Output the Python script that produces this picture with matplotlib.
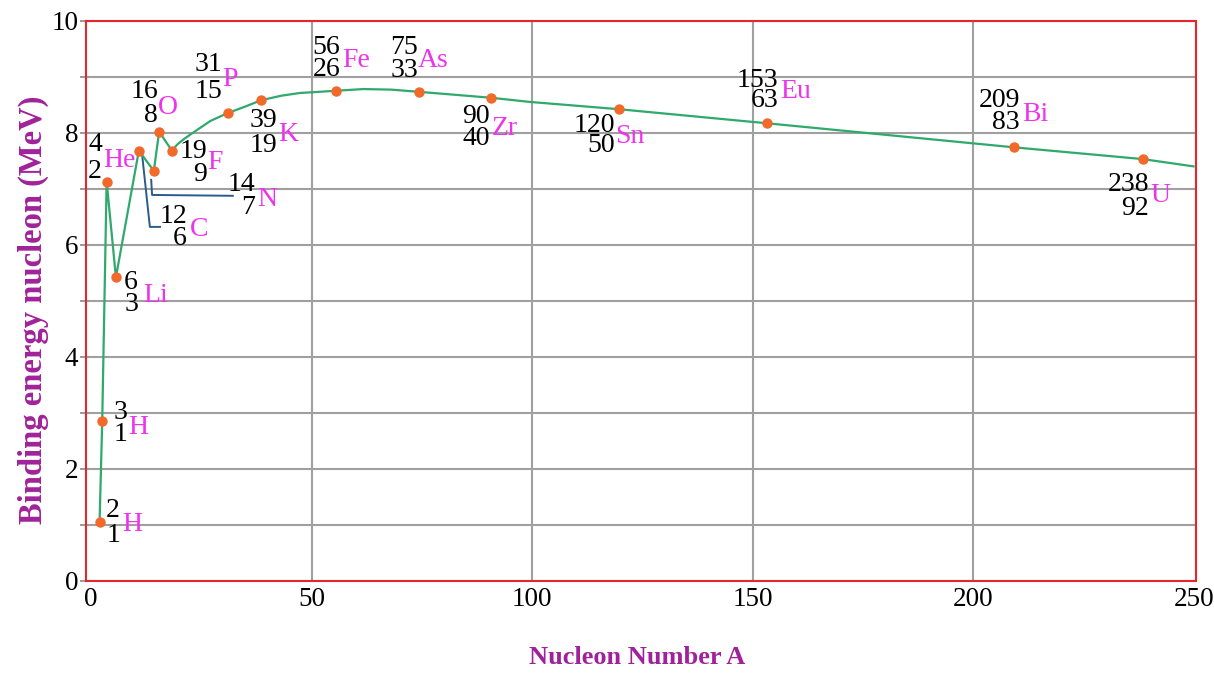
import matplotlib
matplotlib.use("Agg")
import matplotlib.pyplot as plt
from matplotlib.ticker import MultipleLocator

# ---------------- data ----------------
symbols = ["H", "H", "He", "Li", "C", "N", "O", "F", "P", "K", "Fe", "As", "Zr", "Sn", "Eu", "Bi", "U"]
mass_numbers = ["2", "3", "4", "6", "12", "14", "16", "19", "31", "39", "56", "75", "90", "120", "153", "209", "238"]
atomic_numbers = ["1", "1", "2", "3", "6", "7", "8", "9", "15", "19", "26", "33", "40", "50", "63", "83", "92"]
point_x = [1.9, 2.5, 3.5, 5.6, 10.8, 14.2, 15.4, 18.3, 30.9, 38.5, 55.6, 74.4, 90.6, 119.7, 153.1, 209.2, 238.4]
point_y = [1.06, 2.86, 7.13, 5.42, 7.68, 7.32, 8.02, 7.68, 8.35, 8.58, 8.74, 8.73, 8.625, 8.42, 8.17, 7.74, 7.53]

# path of the green curve (markers plus extra points)
curve_x = [1.9, 2.5, 3.5, 5.6, 10.8, 14.2, 15.4, 18.3, 19.5, 20.8, 22.5, 24.0, 27.0, 30.9, 35.0,
           38.5, 43.0, 47.3, 51.5, 55.6, 61.7, 68.0, 74.4, 90.6, 99.5, 119.7, 153.1, 209.2, 238.4, 249.9]
curve_y = [1.06, 2.86, 7.13, 5.42, 7.68, 7.32, 8.02, 7.68, 7.79, 7.875, 7.97, 8.05, 8.21, 8.35, 8.47,
           8.58, 8.66, 8.71, 8.73, 8.75, 8.78, 8.77, 8.73, 8.625, 8.55, 8.42, 8.17, 7.74, 7.53, 7.40]

# blue leader lines for C and N
c_lead_x = [11.5, 13.3, 15.6]
c_lead_y = [7.64, 6.32, 6.32]
n_lead_x = [13.6, 13.8, 32.1]
n_lead_y = [7.16, 6.89, 6.875]

x_ticks = [0, 50, 100, 150, 200, 250]
y_ticks = [0, 2, 4, 6, 8, 10]

x_label = "Nucleon Number A"
y_label = "Binding energy nucleon (MeV)"

# label layout in reference pixels: (numbers right edge, top-number centre y,
# bottom-number centre y, symbol left x, symbol centre y)
label_layout = [
    (120, 508, 533, 122, 522),
    (127, 410, 432, 128, 425),
    (102, 142, 169, 103, 158),
    (138, 280, 302, 143, 293),
    (187, 214, 236, 190, 227),
    (255, 182, 205, 257, 197),
    (158, 89, 113, 158, 105),
    (207, 149, 172, 207, 160),
    (222, 62, 89, 222, 77),
    (277, 118, 143, 278, 132),
    (340, 45, 67, 342, 58),
    (418, 45, 68, 418, 58),
    (490, 114, 136, 492, 126),
    (615, 123, 143, 615, 134),
    (778, 78, 98, 780, 89),
    (1020, 98, 120, 1022, 112),
    (1149, 182, 206, 1150, 193),
]

# ---------------- figure ----------------
W, H = 1214, 686
SERIF = ["Liberation Serif", "DejaVu Serif"]
plt.rcParams["font.family"] = SERIF

fig = plt.figure(figsize=(W / 100, H / 100), dpi=100)
ax = fig.add_axes([86 / W, 1 - 581 / H, (1195.5 - 86) / W, (581 - 20.7) / H])

ax.set_xlim(-1.18, 250.35)
ax.set_ylim(0, 10)

ax.set_xticks(x_ticks)
ax.set_yticks(y_ticks)
ax.yaxis.set_minor_locator(MultipleLocator(1))
ax.tick_params(axis="x", length=0, pad=4, labelsize=19.5)
ax.tick_params(axis="y", which="both", length=4, width=1.4, color="#9a9a9a", pad=1.5, labelsize=19.5)

ax.grid(True, axis="y", which="both", color="#a0a0a0", linewidth=1.5, zorder=0)
for xv in x_ticks[1:-1]:
    ax.axvline(xv, color="#a0a0a0", linewidth=1.5, zorder=0)
ax.set_axisbelow(True)
for sp in ax.spines.values():
    sp.set_color("#e5262c")
    sp.set_linewidth(1.5)
    sp.set_zorder(5)

ax.plot(c_lead_x, c_lead_y, color="#2b5b86", linewidth=1.4, zorder=2)
ax.plot(n_lead_x, n_lead_y, color="#2b5b86", linewidth=1.4, zorder=2)
ax.plot(curve_x, curve_y, color="#2fa96c", linewidth=1.6, zorder=3)
ax.plot(point_x, point_y, linestyle="none", marker="o", markersize=7.5,
        color="#f26a2b", markeredgewidth=0, zorder=4)

fs = 20
off = 9
mag = "#ee33ee"
for (R, yt, yb, sx, sy), a, z, s in zip(label_layout, mass_numbers, atomic_numbers, symbols):
    fig.text(R / W, 1 - (yt + off) / H, a, ha="right", va="baseline", fontsize=fs, color="black")
    fig.text(R / W, 1 - (yb + off) / H, z, ha="right", va="baseline", fontsize=fs, color="black")
    fig.text(sx / W, 1 - (sy + off) / H, s, ha="left", va="baseline", fontsize=fs, color=mag)

fig.text(637 / W, 1 - 658 / H, x_label, ha="center", va="center", fontsize=19,
         fontweight="bold", color="#a0229a")
fig.text(33 / W, 1 - 310 / H, y_label, ha="center", va="center", rotation=90,
         fontsize=23.5, fontweight="bold", color="#a0229a")

fig.savefig("out.png", dpi=100)
